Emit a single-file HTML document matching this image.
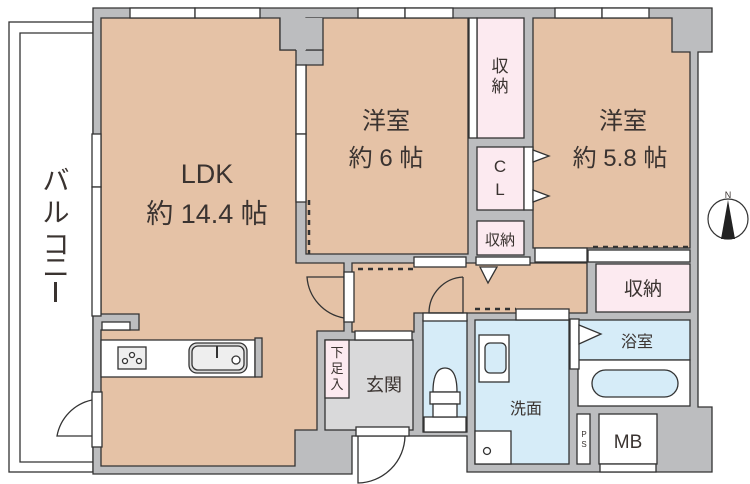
<!DOCTYPE html>
<html><head><meta charset="utf-8"><style>
html,body{margin:0;padding:0;background:#fff;}
svg{display:block;}
text{font-family:"Liberation Sans","Noto Sans CJK JP",sans-serif;fill:#3a3330;}
</style></head><body>
<svg width="750" height="484" viewBox="0 0 750 484" xmlns="http://www.w3.org/2000/svg">
<!-- balcony -->
<rect x="9" y="22" width="84" height="450" fill="#fff" stroke="#333" stroke-width="1.3"/>
<path d="M93,33 H20 V462 H93" fill="none" stroke="#333" stroke-width="1.3"/>
<!-- building footprint walls -->
<polygon points="93,8 712,8 712,52 698,52 698,407 712,407 712,472 467,472 467,436 352,436 352,474 93,474" fill="#bcbdbf" stroke="#333" stroke-width="1.3"/>
<g stroke="#333" stroke-width="1.3">
<!-- LDK -->
<polygon points="101,18 280,18 280,50 296,50 296,263 344,263 344,331 317,331 317,430 295,430 295,466 101,466 101,330 139,330 139,314 101,314" fill="#e5c2a6"/>
<!-- hall -->
<polygon points="352,263 587,263 587,313 414,313 414,332 352,332" fill="#e5c2a6"/>
<!-- bedroom1 -->
<polygon points="306,18 468,18 468,254 306,254 306,65 323,65 323,50 306,50" fill="#e5c2a6"/>
<rect x="280" y="18" width="43" height="32" fill="#bcbdbf" stroke="none"/>
<path d="M280,18 V50 H296 M306,50 H323 V18" fill="none"/>
<!-- bedroom2 -->
<polygon points="533,18 672,18 672,52 690,52 690,248 533,248" fill="#e5c2a6"/>
<!-- storages -->
<rect x="477" y="18" width="47" height="120" fill="#fceaf0"/>
<rect x="477" y="147" width="47" height="63" fill="#fceaf0"/>
<rect x="477" y="221" width="47" height="34" fill="#fceaf0"/>
<rect x="596" y="264" width="94" height="48" fill="#fceaf0"/>
<!-- bath -->
<rect x="578" y="320" width="112" height="40" fill="#d6ecf8"/>
<rect x="578" y="360" width="112" height="46" fill="#fff"/>
<rect x="592" y="370" width="86" height="27" rx="13.5" fill="#d6ecf8"/>
<!-- washroom -->
<rect x="475" y="320" width="94" height="144" fill="#d6ecf8"/>
<rect x="475" y="431" width="36" height="33" fill="#fff"/>
<circle cx="487" cy="451" r="3.5" fill="#fff"/>
<rect x="479" y="335" width="30" height="47" fill="#fff"/>
<rect x="485" y="343" width="21" height="30" rx="5" fill="#d6ecf8"/>
<!-- toilet -->
<rect x="423" y="320" width="44" height="112" fill="#d6ecf8"/>
<rect x="423" y="313" width="44" height="8" fill="#fff"/>
<rect x="424" y="417" width="42" height="15" fill="#fff"/>
<path d="M433,392 Q433,368 445,368 Q457,368 457,392 Z" fill="#fff"/>
<rect x="430" y="392" width="30" height="12" fill="#fff"/>
<rect x="433" y="404" width="24" height="13" fill="#fff"/>
<!-- genkan -->
<rect x="325" y="340" width="88" height="90" fill="#d9d9da"/>
<rect x="325" y="340" width="24" height="58" fill="#fceaf0"/>
<rect x="355" y="331" width="57" height="9" fill="#fff"/>
<rect x="356" y="427" width="53" height="9" fill="#fff"/>
<path d="M358,436 V483 A48,48 0 0 0 405,436" fill="none"/>
<!-- PS MB -->
<rect x="577" y="414" width="13" height="50" fill="#fff"/>
<rect x="599" y="414" width="58" height="50" fill="#fff"/>
<rect x="600" y="464" width="56" height="8" fill="#fff"/>
<!-- kitchen -->
<rect x="101" y="340" width="154" height="37" fill="#fff"/>
<rect x="255" y="338" width="7" height="39" fill="#bcbdbf"/>
<rect x="102" y="322" width="28" height="8" fill="#fff"/>
<rect x="118" y="347" width="28" height="22" fill="#eee"/>
<circle cx="125" cy="361" r="2.5" fill="#fff"/><circle cx="132" cy="355" r="2.5" fill="#fff"/><circle cx="139" cy="361" r="2.5" fill="#fff"/>
<rect x="189" y="343" width="58" height="30" rx="8" fill="#ddd"/>
<rect x="192" y="346" width="52" height="24" rx="6" fill="#eee"/>
<circle cx="236" cy="360" r="4" fill="#fff"/>
<line x1="217" y1="346" x2="217" y2="358" stroke-width="2"/>
<!-- windows -->
<rect x="130" y="8" width="65" height="10" fill="#fff"/><rect x="195" y="8" width="65" height="10" fill="#fff"/>
<rect x="358" y="8" width="47" height="10" fill="#fff"/><rect x="405" y="8" width="48" height="10" fill="#fff"/>
<rect x="555" y="8" width="47" height="10" fill="#fff"/><rect x="602" y="8" width="47" height="10" fill="#fff"/>
<rect x="92" y="134" width="9" height="53" fill="#fff"/><rect x="92" y="187" width="9" height="129" fill="#fff"/>
<rect x="296" y="65" width="10" height="69" fill="#fff"/><rect x="296" y="134" width="10" height="68" fill="#fff"/>
<rect x="469" y="18" width="8" height="120" fill="#fff"/>
<rect x="524" y="147" width="9" height="63" fill="#fff"/>
<!-- doors -->
<rect x="92" y="392" width="10" height="55" fill="#fff"/>
<path d="M92,400 A45,45 0 0 0 57,436 H92" fill="none"/>
<rect x="344" y="272" width="10" height="50" fill="#fff"/>
<path d="M344,318 A45,45 0 0 1 307,277 H344" fill="none"/>
<rect x="414" y="257" width="52" height="10" fill="#fff"/>
<rect x="476" y="257" width="54" height="8" fill="#fff"/>
<rect x="535" y="248" width="52" height="14" fill="#fff"/>
<rect x="588" y="250" width="102" height="12" fill="#fff"/>
<rect x="516" y="309" width="53" height="11" fill="#fff"/>
<rect x="570" y="319" width="9" height="50" fill="#fff"/>
<path d="M463,277 V313 H429 A36,36 0 0 1 463,277" fill="none"/>
<polygon points="533,150 549,156 533,162" fill="#fff"/>
<polygon points="533,190 549,196 533,202" fill="#fff"/>
<polygon points="480,267 497,267 488,283" fill="#fff"/>
<polygon points="579,325 601,334 579,344" fill="#fff"/>
</g>
<!-- dashed lines -->
<g stroke="#333" stroke-width="2.5" stroke-dasharray="5,5">
<line x1="309" y1="200" x2="309" y2="254"/>
<line x1="358" y1="269" x2="414" y2="269"/>
<line x1="475" y1="309" x2="516" y2="309"/>
<line x1="593" y1="247" x2="690" y2="247"/>
</g>
<!-- compass -->
<circle cx="728" cy="219" r="20" fill="#fff" stroke="#333" stroke-width="1.2"/>
<polygon points="728,200 721,239 735,239" fill="#222"/>
<text x="728" y="198" font-size="9" text-anchor="middle">N</text>
<!-- labels -->
<text x="207" y="183" font-size="27" text-anchor="middle">LDK</text>
<text x="207" y="223" font-size="27" text-anchor="middle">約 14.4 帖</text>
<text x="386" y="129" font-size="24" text-anchor="middle">洋室</text>
<text x="386" y="166" font-size="24" text-anchor="middle">約 6 帖</text>
<text x="623" y="129" font-size="24" text-anchor="middle">洋室</text>
<text x="620" y="166" font-size="24" text-anchor="middle">約 5.8 帖</text>
<text x="500" y="72" font-size="17" text-anchor="middle">収</text>
<text x="500" y="92" font-size="17" text-anchor="middle">納</text>
<text x="500" y="172" font-size="17" text-anchor="middle">C</text>
<text x="500" y="195" font-size="17" text-anchor="middle">L</text>
<text x="500" y="245" font-size="15" text-anchor="middle">収納</text>
<text x="643" y="295" font-size="19" text-anchor="middle">収納</text>
<text x="637" y="347" font-size="16" text-anchor="middle">浴室</text>
<text x="526" y="414" font-size="16" text-anchor="middle">洗面</text>
<text x="384" y="391" font-size="18" text-anchor="middle">玄関</text>
<text x="337" y="357" font-size="13" text-anchor="middle">下</text>
<text x="337" y="373" font-size="13" text-anchor="middle">足</text>
<text x="337" y="389" font-size="13" text-anchor="middle">入</text>
<text x="628" y="448" font-size="19" text-anchor="middle">MB</text>
<text x="584" y="437" font-size="8" text-anchor="middle">P</text>
<text x="584" y="447" font-size="8" text-anchor="middle">S</text>
<text x="56" y="190" font-size="27" text-anchor="middle">バ</text>
<text x="56" y="222" font-size="27" text-anchor="middle">ル</text>
<text x="56" y="254" font-size="27" text-anchor="middle">コ</text>
<text x="56" y="277" font-size="27" text-anchor="middle">ニ</text>
<rect x="54" y="282" width="3" height="20" fill="#3a3330"/>
</svg>
</body></html>
